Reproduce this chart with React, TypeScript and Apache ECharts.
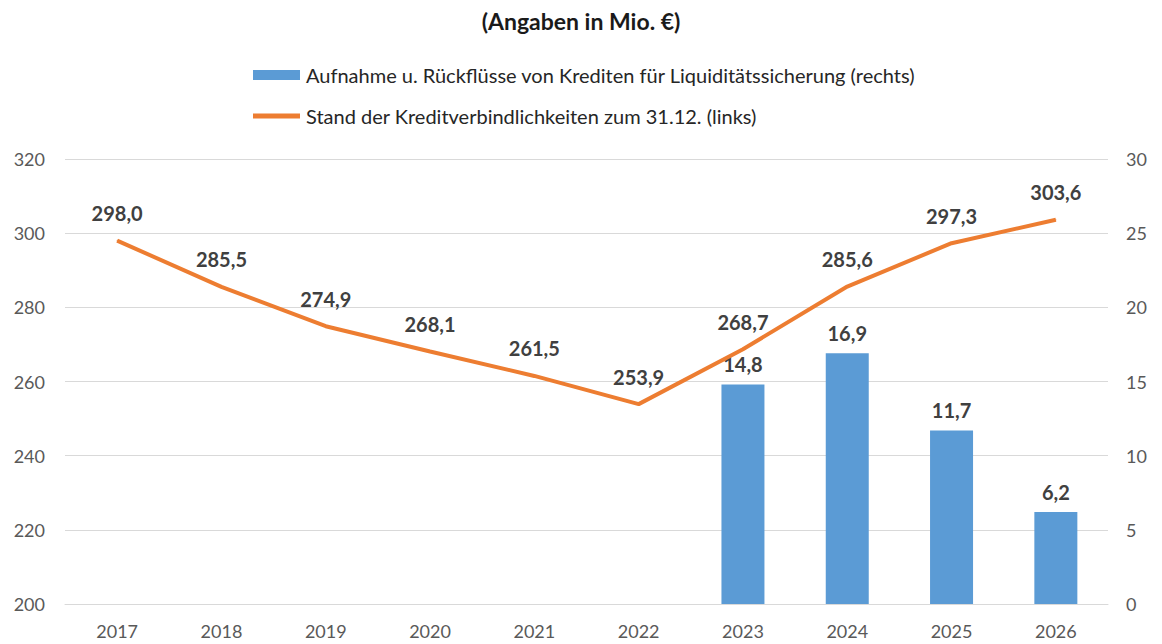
import React, { useEffect, useRef } from "react";
import * as echarts from "echarts";

const categories = ["2017", "2018", "2019", "2020", "2021", "2022", "2023", "2024", "2025", "2026"];
const stockValues = [298.0, 285.5, 274.9, 268.1, 261.5, 253.9, 268.7, 285.6, 297.3, 303.6];
const creditValues: (number | null)[] = [null, null, null, null, null, null, 14.8, 16.9, 11.7, 6.2];
const titleText = "(Angaben in Mio. €)";
const barName = "Aufnahme u. Rückflüsse von Krediten für Liquiditätssicherung (rechts)";
const lineName = "Stand der Kreditverbindlichkeiten zum 31.12. (links)";

const FONT = "Lato";
const fmt = (v: number) => v.toFixed(1).replace(".", ",");

export default function App() {
  const ref = useRef<HTMLDivElement>(null);
  useEffect(() => {
    document.body.style.margin = "0";
    if (!ref.current) return;
    const chart = echarts.init(ref.current, undefined, { renderer: "svg" });
    chart.setOption({
      animation: false,
      backgroundColor: "#ffffff",
      textStyle: { fontFamily: FONT },
      title: {
        text: titleText,
        left: "center",
        top: 9,
        padding: 0,
        textStyle: { fontFamily: FONT, fontSize: 23, fontWeight: "bold", color: "#1a1a1a" },
      },
      legend: [
        {
          data: [{ name: barName, icon: "rect" }],
          left: 253,
          top: 65,
          padding: 0,
          itemWidth: 47,
          itemHeight: 10,
          itemGap: 6,
          textStyle: { fontFamily: FONT, fontSize: 20, color: "#262626", padding: [0, 0, 0, 1] },
          selectedMode: false,
        },
        {
          data: [{ name: lineName, icon: "rect" }],
          left: 253,
          top: 106,
          padding: 0,
          itemWidth: 47,
          itemHeight: 5,
          itemGap: 6,
          textStyle: { fontFamily: FONT, fontSize: 20, color: "#262626", padding: [0, 0, 0, 1] },
          selectedMode: false,
        },
      ],
      grid: { left: 65, right: 54, top: 159, bottom: 40 },
      xAxis: {
        type: "category",
        data: categories,
        axisLine: { show: true, lineStyle: { color: "#d9d9d9", width: 1 } },
        axisTick: { show: false },
        axisLabel: { color: "#595959", fontSize: 18, fontFamily: FONT, margin: 18 },
      },
      yAxis: [
        {
          type: "value",
          min: 200,
          max: 320,
          interval: 20,
          position: "left",
          axisLine: { show: false },
          axisTick: { show: false },
          splitLine: { show: true, lineStyle: { color: "#d9d9d9", width: 1 } },
          axisLabel: { color: "#595959", fontSize: 18, fontFamily: FONT, margin: 20 },
        },
        {
          type: "value",
          min: 0,
          max: 30,
          interval: 5,
          position: "right",
          axisLine: { show: false },
          axisTick: { show: false },
          splitLine: { show: false },
          axisLabel: { color: "#595959", fontSize: 18, fontFamily: FONT, margin: 18 },
        },
      ],
      series: [
        {
          name: barName,
          type: "bar",
          yAxisIndex: 1,
          data: creditValues,
          barWidth: 43,
          itemStyle: { color: "#5b9bd5" },
          label: {
            show: true,
            position: "top",
            distance: 10,
            formatter: (p: any) => (p.value == null ? "" : fmt(p.value)),
            fontFamily: FONT,
            fontSize: 20,
            fontWeight: "bold",
            color: "#404040",
          },
          z: 1,
        },
        {
          name: lineName,
          type: "line",
          yAxisIndex: 0,
          data: stockValues,
          symbol: "circle",
          symbolSize: 1,
          showSymbol: true,
          lineStyle: { color: "#ed7d31", width: 4 },
          itemStyle: { color: "#ed7d31" },
          label: {
            show: true,
            position: "top",
            distance: 17,
            formatter: (p: any) => fmt(p.value),
            fontFamily: FONT,
            fontSize: 20,
            fontWeight: "bold",
            color: "#404040",
          },
          z: 2,
        },
      ],
    });
    return () => chart.dispose();
  }, []);
  return <div ref={ref} style={{ width: 1162, height: 644 }} />;
}
